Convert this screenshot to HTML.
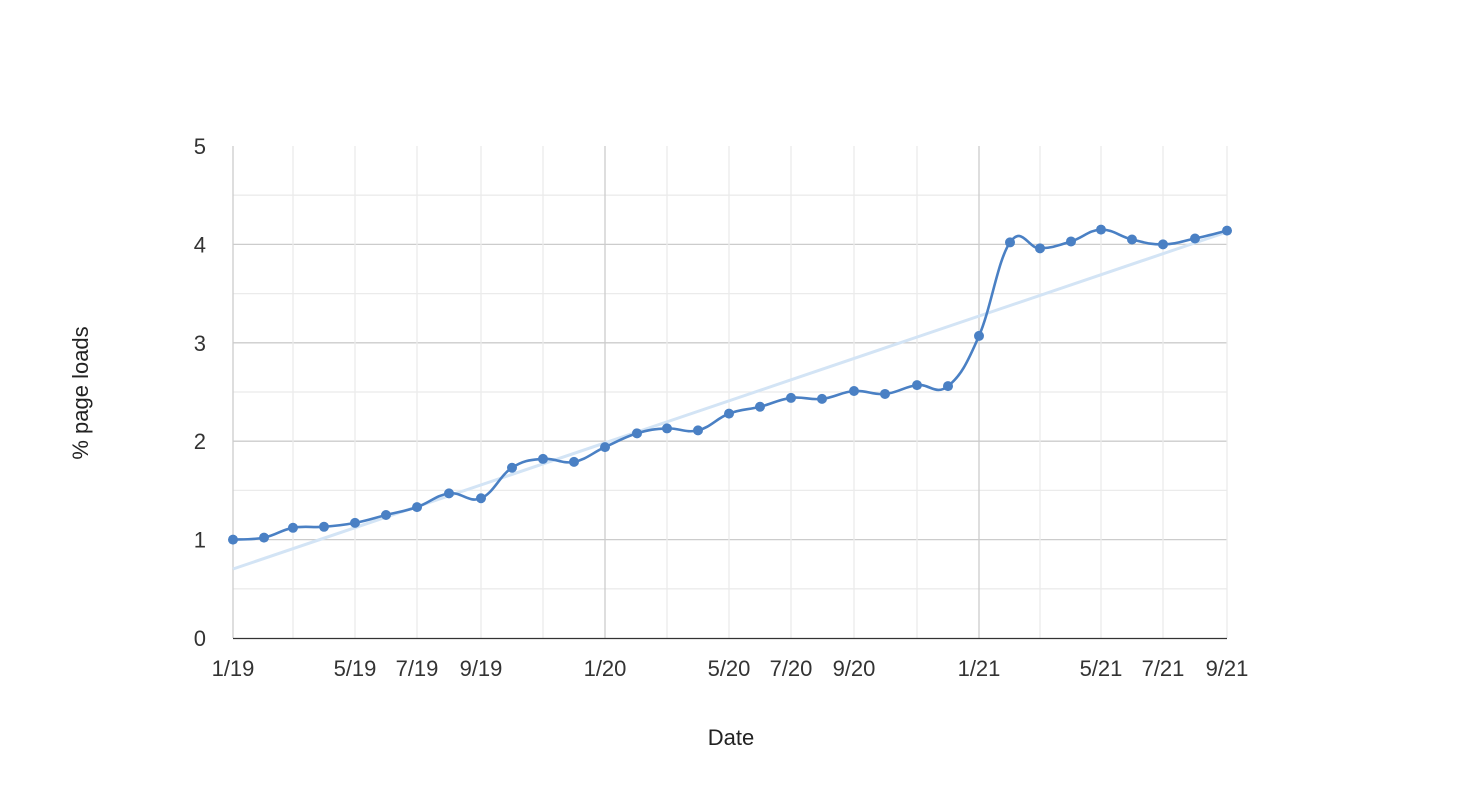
<!DOCTYPE html>
<html><head><meta charset="utf-8"><style>
html,body{margin:0;padding:0;background:#fff;}
svg{display:block;font-family:"Liberation Sans",Roboto,Arial,sans-serif;}
</style></head><body>
<svg id="s" width="1460" height="786" viewBox="0 0 1460 786" xmlns="http://www.w3.org/2000/svg">
<g id="grid"></g>
<line x1="233" y1="638.5" x2="1227" y2="638.5" stroke="#333" stroke-width="1.3"/>
<line x1="233" y1="569" x2="1227" y2="232" stroke="#d3e4f5" stroke-width="3"/>
<path id="curve" fill="none" stroke="#4a80c4" stroke-width="2.6"/>
<g id="dots" fill="#4a80c4"></g>
<g id="labels" fill="#333" font-size="22"></g>
<text x="731" y="745" text-anchor="middle" font-size="22" fill="#222">Date</text>
<text transform="translate(88,393) rotate(-90)" text-anchor="middle" font-size="22" fill="#222">% page loads</text>
</svg>
<script>
var ns="http://www.w3.org/2000/svg";
function el(p,t,a,txt){var e=document.createElementNS(ns,t);for(var k in a)e.setAttribute(k,a[k]);if(txt)e.textContent=txt;p.appendChild(e);return e;}
var g=document.getElementById('grid'),L=document.getElementById('labels');
function Y(v){return 638-v*98.4;}
for(var i=1;i<10;i++){var y=Y(i/2);el(g,'line',{x1:233,x2:1227,y1:y,y2:y,stroke:i%2?'#ebebeb':'#cccccc','stroke-width':1.3});}
var vx=[233,293,355,417,481,543,605,667,729,791,854,917,979,1040,1101,1163,1227];
vx.forEach(function(x,i){var maj=(i==0||i==6||i==12);el(g,'line',{x1:x,x2:x,y1:146,y2:638,stroke:maj?'#cccccc':'#ebebeb','stroke-width':1.3});});
for(var v=0;v<=5;v++)el(L,'text',{x:206,y:Y(v)+8,'text-anchor':'end'},''+v);
var xl=[[233,'1/19'],[355,'5/19'],[417,'7/19'],[481,'9/19'],[605,'1/20'],[729,'5/20'],[791,'7/20'],[854,'9/20'],[979,'1/21'],[1101,'5/21'],[1163,'7/21'],[1227,'9/21']];
xl.forEach(function(a){el(L,'text',{x:a[0],y:676,'text-anchor':'middle'},a[1]);});
var xs=[233,264,293,324,355,386,417,449,481,512,543,574,605,637,667,698,729,760,791,822,854,885,917,948,979,1010,1040,1071,1101,1132,1163,1195,1227];
var vs=[1.0,1.02,1.12,1.13,1.17,1.25,1.33,1.47,1.42,1.73,1.82,1.79,1.94,2.08,2.13,2.11,2.28,2.35,2.44,2.43,2.51,2.48,2.57,2.56,3.07,4.02,3.96,4.03,4.15,4.05,4.0,4.06,4.14];
var P=xs.map(function(x,i){return [x,Y(vs[i])];});
var d='M'+P[0][0]+','+P[0][1],t=0.2;
for(var i=0;i<P.length-1;i++){var p0=P[Math.max(0,i-1)],p1=P[i],p2=P[i+1],p3=P[Math.min(P.length-1,i+2)];
var c1=[p1[0]+(p2[0]-p0[0])*t,p1[1]+(p2[1]-p0[1])*t],c2=[p2[0]-(p3[0]-p1[0])*t,p2[1]-(p3[1]-p1[1])*t];
d+=' C'+c1[0]+','+c1[1]+' '+c2[0]+','+c2[1]+' '+p2[0]+','+p2[1];}
document.getElementById('curve').setAttribute('d',d);
var D=document.getElementById('dots');P.forEach(function(p){el(D,'circle',{cx:p[0],cy:p[1],r:5});});
</script>
</body></html>
